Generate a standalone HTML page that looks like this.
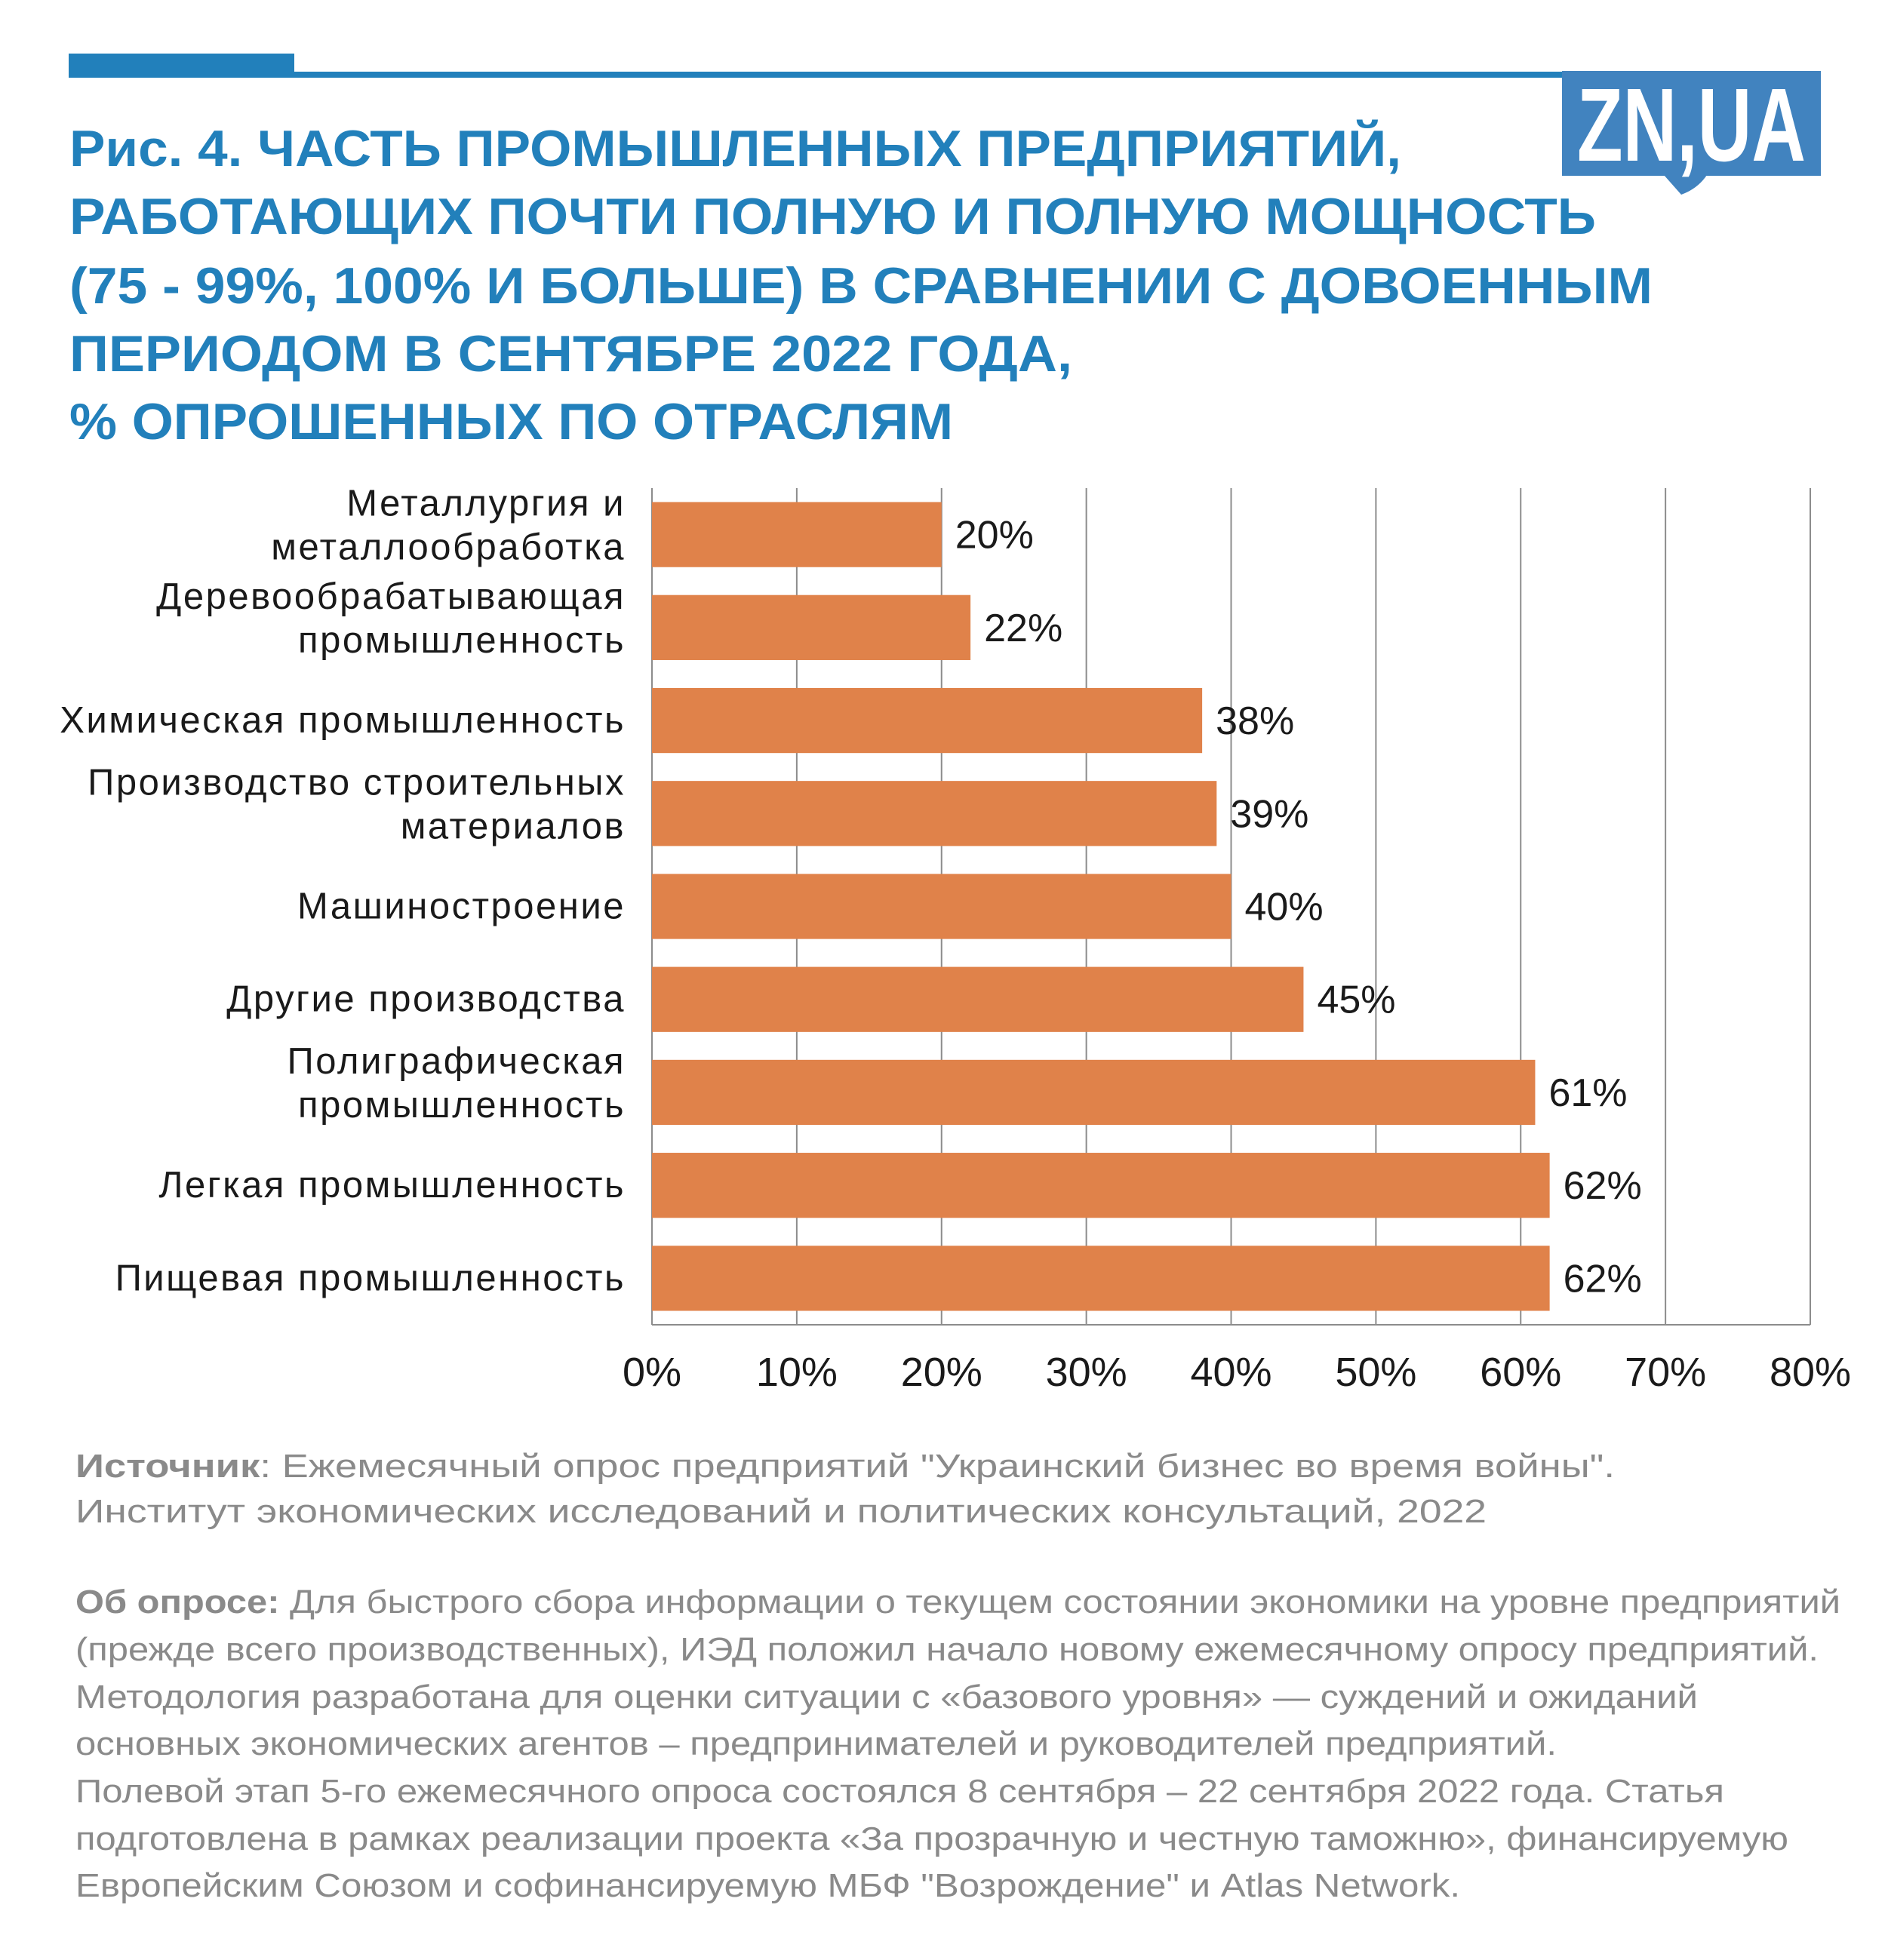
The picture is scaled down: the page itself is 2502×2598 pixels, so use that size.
<!DOCTYPE html>
<html><head><meta charset="utf-8"><style>
html,body{margin:0;padding:0;background:#fff}
svg{display:block}
</style></head><body>
<svg id="chart" width="2502" height="2598" viewBox="0 0 2502 2598" xmlns="http://www.w3.org/2000/svg">
<rect x="91" y="71" width="299" height="32" fill="#2280bb"/>
<rect x="91" y="95" width="1990" height="8" fill="#2280bb"/>
<g>
<rect x="2070" y="94" width="343" height="139" fill="#4183bf"/>
<path d="M2205 232 L2262 232 Q2250 250 2228 258 Z" fill="#4183bf"/>
<text x="2090" y="213" font-family="Liberation Sans, sans-serif" font-weight="bold" font-size="138" fill="#fff" textLength="303" lengthAdjust="spacingAndGlyphs">ZN,UA</text>
</g>
<g font-family="Liberation Sans, sans-serif" font-weight="bold" font-size="68" fill="#2280bb">
<text x="92" y="220" textLength="1765" lengthAdjust="spacingAndGlyphs">Рис. 4. ЧАСТЬ ПРОМЫШЛЕННЫХ ПРЕДПРИЯТИЙ,</text>
<text x="92" y="310" textLength="2023" lengthAdjust="spacingAndGlyphs">РАБОТАЮЩИХ ПОЧТИ ПОЛНУЮ И ПОЛНУЮ МОЩНОСТЬ</text>
<text x="92" y="402" textLength="2098" lengthAdjust="spacingAndGlyphs">(75 - 99%, 100% И БОЛЬШЕ) В СРАВНЕНИИ С ДОВОЕННЫМ</text>
<text x="92" y="492" textLength="1329" lengthAdjust="spacingAndGlyphs">ПЕРИОДОМ В СЕНТЯБРЕ 2022 ГОДА,</text>
<text x="92" y="582" textLength="1171" lengthAdjust="spacingAndGlyphs">% ОПРОШЕННЫХ ПО ОТРАСЛЯМ</text>
</g>
<g id="plot"></g>
<g font-family="Liberation Sans, sans-serif" font-size="44" fill="#8a8a8a">
<text x="100" y="1958" textLength="2040" lengthAdjust="spacingAndGlyphs"><tspan font-weight="bold">Источник</tspan>: Ежемесячный опрос предприятий "Украинский бизнес во время войны".</text>
<text x="100" y="2018" textLength="1870" lengthAdjust="spacingAndGlyphs">Институт экономических исследований и политических консультаций, 2022</text>
<text x="100" y="2138" textLength="2339" lengthAdjust="spacingAndGlyphs"><tspan font-weight="bold">Об опросе:</tspan> Для быстрого сбора информации о текущем состоянии экономики на уровне предприятий</text>
<text x="100" y="2201" textLength="2310" lengthAdjust="spacingAndGlyphs">(прежде всего производственных), ИЭД положил начало новому ежемесячному опросу предприятий.</text>
<text x="100" y="2264" textLength="2150" lengthAdjust="spacingAndGlyphs">Методология разработана для оценки ситуации с «базового уровня» — суждений и ожиданий</text>
<text x="100" y="2326" textLength="1963" lengthAdjust="spacingAndGlyphs">основных экономических агентов – предпринимателей и руководителей предприятий.</text>
<text x="100" y="2389" textLength="2185" lengthAdjust="spacingAndGlyphs">Полевой этап 5-го ежемесячного опроса состоялся 8 сентября – 22 сентября 2022 года. Статья</text>
<text x="100" y="2452" textLength="2270" lengthAdjust="spacingAndGlyphs">подготовлена в рамках реализации проекта «За прозрачную и честную таможню», финансируемую</text>
<text x="100" y="2514" textLength="1835" lengthAdjust="spacingAndGlyphs">Европейским Союзом и софинансируемую МБФ "Возрождение" и Atlas Network.</text>
</g>
</svg>
<script>
const categories = [
  ["Металлургия и","металлообработка"],
  ["Деревообрабатывающая","промышленность"],
  ["Химическая промышленность"],
  ["Производство строительных","материалов"],
  ["Машиностроение"],
  ["Другие производства"],
  ["Полиграфическая","промышленность"],
  ["Легкая промышленность"],
  ["Пищевая промышленность"]
];
const values = [20,22,38,39,40,45,61,62,62];
const tickValues = [0,10,20,30,40,50,60,70,80];
const tickLabels = ["0%","10%","20%","30%","40%","50%","60%","70%","80%"];

const NS = "http://www.w3.org/2000/svg";
const plot = document.getElementById('plot');
const X0 = 864, X1 = 2399, Y0 = 647, Y1 = 1756;
const xScale = v => X0 + (v - 0) / (80 - 0) * (X1 - X0);
const band = (Y1 - Y0) / categories.length;
const yCenter = i => Y0 + band * (i + 0.5);
function mk(tag, attrs, text){
  const e = document.createElementNS(NS, tag);
  for (const k in attrs) e.setAttribute(k, attrs[k]);
  if (text !== undefined) e.textContent = text;
  plot.appendChild(e);
  return e;
}
tickValues.forEach((t, i) => {
  const g = mk('line', {x1: xScale(t), x2: xScale(t), y1: Y0, y2: Y1, stroke: '#8c8c8c', 'stroke-width': 2});
  
  
  const l = mk('text', {x: xScale(t), y: 1837, 'text-anchor': 'middle', 'font-family': 'Liberation Sans, sans-serif', 'font-size': 54, fill: '#1a1a1a'}, tickLabels[i]);
  
  
});
const ax = mk('line', {x1: X0, x2: X1, y1: Y1, y2: Y1, stroke: '#8c8c8c', 'stroke-width': 2});


const barH = band * 0.7;
values.forEach((v, i) => {
  const cy = yCenter(i);
  const b = mk('rect', {x: xScale(0), y: cy - barH / 2, width: xScale(v) - xScale(0), height: barH, fill: '#e0824a'});
  
  
  const vl = mk('text', {x: xScale(v) + 18, y: cy + 18, 'font-family': 'Liberation Sans, sans-serif', 'font-size': 52, fill: '#1a1a1a'}, v + '%');
  
  
  const lines = categories[i];
  lines.forEach((ln, j) => {
    const y = lines.length === 1 ? cy + 16 : cy - 25 + j * 58;
    const t = mk('text', {x: 829, y: y, 'text-anchor': 'end', 'font-family': 'Liberation Sans, sans-serif', 'font-size': 49, 'letter-spacing': 2.5, fill: '#1a1a1a'}, ln);
    
    
  });
});
</script>
</body></html>
